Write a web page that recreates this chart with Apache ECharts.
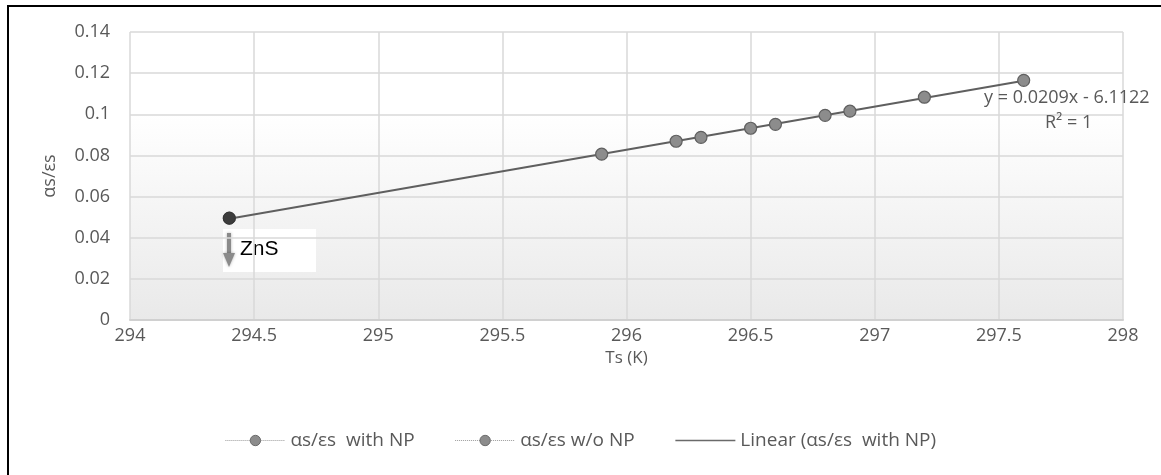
<!DOCTYPE html>
<html>
<head>
<meta charset="utf-8">
<script src="https://cdn.jsdelivr.net/npm/echarts@6/dist/echarts.min.js"></script>
<style>
html,body{margin:0;padding:0;background:#fff;}
#frame{position:absolute;left:7px;top:5px;width:1200px;height:500px;border-top:2px solid #000;border-left:2px solid #000;box-sizing:border-box;pointer-events:none;z-index:5;}
#chart{position:absolute;left:0;top:0;width:1161px;height:475px;}
</style>
</head>
<body>
<div id="chart"></div>
<div id="frame"></div>
<script>
// Data
var tsWithNP = [294.4, 295.9, 296.2, 296.3, 296.5, 296.6, 296.8, 296.9, 297.2, 297.6];
var ratioWithNP = [0.0495, 0.0806, 0.0869, 0.0888, 0.0932, 0.0951, 0.0995, 0.1015, 0.1083, 0.1165];
var tsWoNP = [294.4];
var ratioWoNP = [0.0495];
var xTicks = [294, 294.5, 295, 295.5, 296, 296.5, 297, 297.5, 298];
var yTicks = [0, 0.02, 0.04, 0.06, 0.08, 0.1, 0.12, 0.14];
var seriesNames = ['\u03b1s/\u03b5s  with NP', '\u03b1s/\u03b5s w/o NP', 'Linear (\u03b1s/\u03b5s  with NP)'];
var equationText = 'y = 0.0209x - 6.1122';
var r2Text = 'R\u00b2 = 1';
var annotationText = 'ZnS';

// Least-squares trend line over the "with NP" range
function linFit(xs, ys) {
  var n = xs.length, sx = 0, sy = 0, sxx = 0, sxy = 0;
  for (var i = 0; i < n; i++) { sx += xs[i]; sy += ys[i]; sxx += xs[i]*xs[i]; sxy += xs[i]*ys[i]; }
  var m = (n*sxy - sx*sy) / (n*sxx - sx*sx);
  var b = (sy - m*sx) / n;
  return {m: m, b: b};
}
var fit = linFit(tsWithNP, ratioWithNP);
var xMinD = Math.min.apply(null, tsWithNP), xMaxD = Math.max.apply(null, tsWithNP);
var trend = [[xMinD, fit.m*xMinD + fit.b], [xMaxD, fit.m*xMaxD + fit.b]];

function pairs(xs, ys) { return xs.map(function(x, i){ return [x, ys[i]]; }); }

var FONT = 'Open Sans';
var TXT = '#595959';
var chart = echarts.init(document.getElementById('chart'));
chart.setOption({
  animation: false,
  textStyle: {fontFamily: FONT},
  grid: {left: 130, right: 38, top: 32, bottom: 155, show: true, borderWidth: 0,
    backgroundColor: new echarts.graphic.LinearGradient(0, 0, 0, 1, [
      {offset: 0, color: '#ffffff'}, {offset: 0.28, color: '#ffffff'}, {offset: 1, color: '#e9e9e9'}])},
  xAxis: {
    type: 'value', min: xTicks[0], max: xTicks[xTicks.length-1], interval: 0.5,
    name: 'Ts (K)', nameLocation: 'middle', nameGap: 29,
    nameTextStyle: {color: TXT, fontSize: 17, fontFamily: FONT},
    axisLine: {show: true, lineStyle: {color: '#d0d0d0', width: 2}},
    axisTick: {show: false},
    axisLabel: {color: TXT, fontSize: 18, margin: 7, fontFamily: FONT},
    splitLine: {show: true, lineStyle: {color: '#d9d9d9', width: 1.5}}
  },
  yAxis: {
    type: 'value', min: yTicks[0], max: yTicks[yTicks.length-1], interval: 0.02,
    name: '\u03b1s/\u03b5s', nameLocation: 'middle', nameGap: 71, nameRotate: 90,
    nameTextStyle: {color: TXT, fontSize: 18, fontFamily: FONT},
    axisLine: {show: false}, axisTick: {show: false},
    axisLabel: {color: TXT, fontSize: 18, margin: 20, fontFamily: FONT},
    splitLine: {show: true, lineStyle: {color: '#d9d9d9', width: 1.5}}
  },
  legend: {
    bottom: 20, left: 'center', itemGap: 40, itemWidth: 60, itemHeight: 13,
    textStyle: {color: TXT, fontSize: 19, fontFamily: FONT},
    data: [
      {name: seriesNames[0], itemStyle: {color: '#8c8c8c', borderColor: '#6a6a6a', borderWidth: 1},
        lineStyle: {type: 'dotted', width: 1, color: '#9a9a9a', opacity: 1}},
      {name: seriesNames[1], itemStyle: {color: '#8c8c8c', borderColor: '#6a6a6a', borderWidth: 1},
        lineStyle: {type: 'dotted', width: 1, color: '#9a9a9a', opacity: 1}},
      {name: seriesNames[2], itemStyle: {opacity: 0},
        lineStyle: {type: 'solid', width: 1.5, color: '#6a6a6a', opacity: 1}}
    ]
  },
  series: [
    {
      name: seriesNames[0], type: 'line', data: pairs(tsWithNP, ratioWithNP), z: 3,
      symbol: 'circle', symbolSize: 12,
      lineStyle: {width: 1, type: 'dotted', color: '#9a9a9a', opacity: 0},
      itemStyle: {color: '#8c8c8c', borderColor: '#5f5f5f', borderWidth: 1.2}
    },
    {
      name: seriesNames[1], type: 'line', data: pairs(tsWoNP, ratioWoNP), z: 4,
      symbol: 'circle', symbolSize: 12,
      lineStyle: {width: 1, type: 'dotted', color: '#9a9a9a', opacity: 0},
      itemStyle: {color: '#3c3c3c', borderColor: '#333333', borderWidth: 1}
    },
    {
      name: seriesNames[2], type: 'line', data: trend, symbol: 'none', z: 2,
      lineStyle: {color: '#5f5f5f', width: 2}, itemStyle: {color: '#5f5f5f'}
    }
  ],
  graphic: [
    {type: 'text', left: 984, top: 89, z: 10,
      style: {text: equationText, fill: TXT, font: '18px "Open Sans"'}},
    {type: 'text', left: 1045, top: 114, z: 10,
      style: {text: r2Text, fill: TXT, font: '18px "Open Sans"'}},
    {type: 'group', left: 223, top: 229, z: 10, children: [
      {type: 'rect', shape: {x: 0, y: 0, width: 93, height: 43}, style: {fill: '#ffffff'}},
      {type: 'rect', shape: {x: 4, y: 4, width: 4, height: 22}, style: {fill: '#8a8a8a', shadowBlur: 3, shadowColor: 'rgba(0,0,0,0.3)'}},
      {type: 'polygon', shape: {points: [[0, 24], [12, 24], [6, 38]]}, style: {fill: '#8a8a8a', shadowBlur: 3, shadowColor: 'rgba(0,0,0,0.3)'}},
      {type: 'text', left: 17, top: 10, style: {text: annotationText, fill: '#000', font: '21px "Liberation Sans"'}}
    ]}
  ]
});
</script>
</body>
</html>
